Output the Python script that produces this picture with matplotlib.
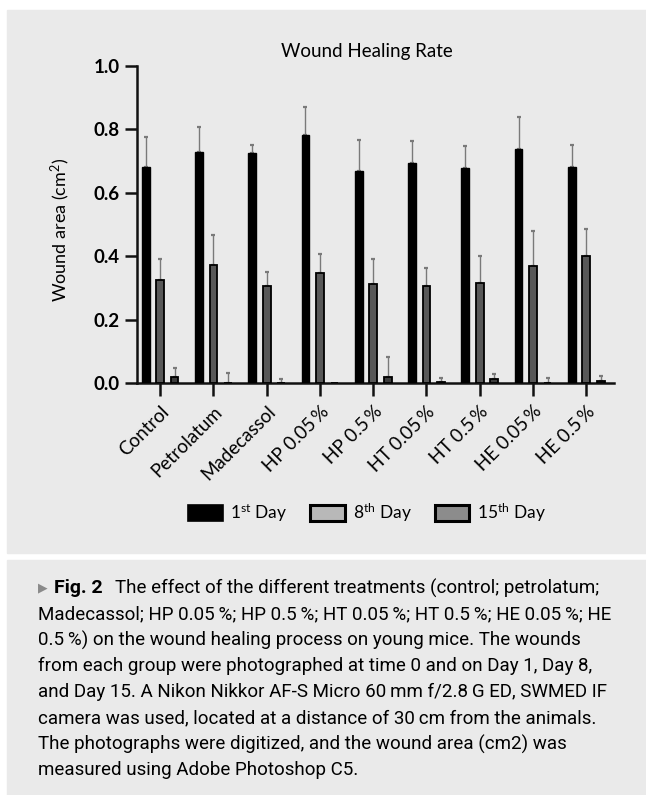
import matplotlib.pyplot as plt
import numpy as np
from matplotlib.patches import Rectangle, Patch

# Data (wound area, cm2)
groups = ['Control', 'Petrolatum', 'Madecassol', 'HP 0.05\u2009%', 'HP 0.5\u2009%',
          'HT 0.05\u2009%', 'HT 0.5\u2009%', 'HE 0.05\u2009%', 'HE 0.5\u2009%']
day1 = [0.682, 0.729, 0.726, 0.782, 0.668, 0.695, 0.677, 0.738, 0.682]
day1_err = [0.094, 0.079, 0.024, 0.089, 0.100, 0.068, 0.070, 0.101, 0.068]
day8 = [0.327, 0.372, 0.308, 0.348, 0.313, 0.308, 0.315, 0.369, 0.401]
day8_err = [0.065, 0.094, 0.042, 0.059, 0.079, 0.055, 0.087, 0.111, 0.086]
day15 = [0.019, 0.002, 0.001, 0.0, 0.021, 0.003, 0.013, 0.001, 0.007]
day15_err = [0.030, 0.029, 0.013, 0.0, 0.063, 0.015, 0.016, 0.017, 0.016]

caption_first = "The effect of the different treatments (control; petrolatum;"
caption_lines = [
    "Madecassol; HP 0.05\u2009%; HP 0.5\u2009%; HT 0.05\u2009%; HT 0.5\u2009%; HE 0.05\u2009%; HE",
    "0.5\u2009%) on the wound healing process on young mice. The wounds",
    "from each group were photographed at time 0 and on Day 1, Day 8,",
    "and Day 15. A Nikon Nikkor AF-S Micro 60\u2009mm f/2.8\u2009G ED, SWMED IF",
    "camera was used, located at a distance of 30\u2009cm from the animals.",
    "The photographs were digitized, and the wound area (cm2) was",
    "measured using Adobe Photoshop C5.",
]

plt.rcParams['font.family'] = ['Lato', 'DejaVu Sans']
plt.rcParams['mathtext.fontset'] = 'custom'
plt.rcParams['mathtext.rm'] = 'Lato'
plt.rcParams['mathtext.it'] = 'Lato:italic'

W, H = 646, 795
fig = plt.figure(figsize=(W / 100, H / 100), dpi=100, facecolor='white')

# grey panels behind the chart and the caption
panel = '#eaeaea'
fig.patches.append(Rectangle((7 / W, 1 - 553 / H), 1, (553 - 10) / H,
                             transform=fig.transFigure, color=panel, zorder=-5))
fig.patches.append(Rectangle((7 / W, 0), 1, 1 - 560 / H,
                             transform=fig.transFigure, color=panel, zorder=-5))

ax = fig.add_axes([136.7 / W, 1 - 383.3 / H, (614 - 136.7) / W, (383.3 - 66) / H])
ax.set_facecolor('none')

x = np.arange(len(groups))
off, bw = 0.272, 0.145
ax.bar(x - off, day1, bw, color='black', edgecolor='black', lw=1.0, zorder=3)
ax.bar(x, day8, bw, color='#585858', edgecolor='black', lw=1.3, zorder=3)
ax.bar(x + off, day15, bw, color='#3c3c3c', edgecolor='black', lw=1.3, zorder=3)

# upper error bars only
for xs, vals, errs in [(x - off, day1, day1_err), (x, day8, day8_err), (x + off, day15, day15_err)]:
    vals = np.array(vals)
    errs = np.array(errs)
    m = errs > 0
    ax.errorbar(xs[m], vals[m], yerr=[np.zeros(m.sum()), errs[m]], fmt='none',
                ecolor='#7a7a7a', elinewidth=1.0, capsize=1.6, capthick=1.6, zorder=2)

ax.set_xlim(-0.44, 8.52)
ax.set_ylim(0, 1.0)
ax.set_yticks([0.0, 0.2, 0.4, 0.6, 0.8, 1.0])
ax.set_yticklabels(['0.0', '0.2', '0.4', '0.6', '0.8', '1.0'], fontsize=13.5, fontweight='bold')
ax.set_xticks(x)
ax.set_xticklabels(groups, rotation=45, ha='right', va='top', rotation_mode='anchor', fontsize=13.5)
ax.tick_params(axis='both', length=9, width=1.8, color='#111111', pad=3)
ax.tick_params(axis='x', pad=5)
for s in ['top', 'right']:
    ax.spines[s].set_visible(False)
for s in ['left', 'bottom']:
    ax.spines[s].set_linewidth(1.8)
    ax.spines[s].set_color('#111111')

fig.text(367 / W, 1 - 51 / H, 'Wound Healing Rate', ha='center', va='center', fontsize=13.5)
fig.text(60 / W, 1 - 230 / H, 'Wound area (cm$^{2}$)', ha='center', va='center',
         rotation=90, fontsize=13)

handles = [Patch(facecolor='black', edgecolor='black', lw=1.2),
           Patch(facecolor='#b8b8b8', edgecolor='black', lw=2.2),
           Patch(facecolor='#8c8c8c', edgecolor='black', lw=2.2)]
labels = ['1$^{\\mathrm{st}}$ Day', '8$^{\\mathrm{th}}$ Day', '15$^{\\mathrm{th}}$ Day']
fig.legend(handles, labels, loc='center', bbox_to_anchor=(367 / W, 1 - 513 / H), ncol=3,
           frameon=False, fontsize=12.5, handlelength=2.0, handleheight=1.0,
           columnspacing=1.3, handletextpad=0.45)

# caption
cap_font = ['Roboto', 'DejaVu Sans']
cs = 13.5
y0 = 1 - 588 / H
fig.text(38 / W, y0, '\u25b6', color='#8a8a8a', fontsize=9, va='center', family=['DejaVu Sans'])
fig.text(54 / W, y0, 'Fig. 2', fontweight='bold', fontsize=cs + 0.5, va='center', family=cap_font)
fig.text(115 / W, y0, caption_first, fontsize=cs, va='center', family=cap_font)
for i, line in enumerate(caption_lines):
    fig.text(38 / W, 1 - (588 + 26 * (i + 1)) / H, line, fontsize=cs, va='center', family=cap_font)

fig.savefig('out.png', dpi=100, facecolor='white')
